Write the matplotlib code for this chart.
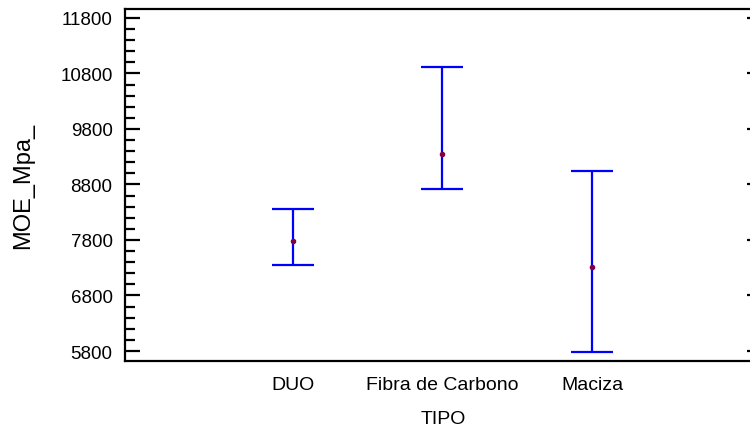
import matplotlib
matplotlib.use("Agg")
import matplotlib.pyplot as plt
import numpy as np
from matplotlib.ticker import FixedLocator

plt.rcParams['font.family'] = ['Liberation Sans', 'DejaVu Sans']

# data (mean and interval limits, MPa)
categories = ["DUO", "Fibra de Carbono", "Maciza"]
means = [7780, 9340, 7310]
lower = [7345, 8720, 5790]
upper = [8360, 10920, 9040]
y_ticks = [5800, 6800, 7800, 8800, 9800, 10800, 11800]

fig = plt.figure(figsize=(7.5, 4.27), dpi=100)
ax = fig.add_axes([125 / 750, 1 - 362 / 427, 637 / 750, 352 / 427])

pos = list(range(1, len(categories) + 1))
err_lo = [m - l for m, l in zip(means, lower)]
err_hi = [u - m for m, u in zip(means, upper)]

# intervals
ax.errorbar(pos, means, yerr=[err_lo, err_hi], fmt='none', ecolor='#0000ff',
            elinewidth=1.6, capsize=15, capthick=1.6, zorder=2)
# means
ax.plot(pos, means, 'o', color='#800040', markersize=3, zorder=3)

ax.set_xlim(1 - 1.12, 3 + 1.135)
ax.set_ylim(5620, 11960)
ax.set_xticks(pos)
ax.set_xticklabels(categories)
ax.yaxis.set_major_locator(FixedLocator(y_ticks))
ax.yaxis.set_minor_locator(FixedLocator(np.arange(y_ticks[0], y_ticks[-1], 200)))

ax.tick_params(axis='x', length=0, pad=11, labelsize=14)
ax.tick_params(axis='y', which='major', direction='in', length=11, width=1.6,
               labelsize=13.5, right=True, pad=9)
ax.tick_params(axis='y', which='minor', direction='in', length=7, width=1.6, right=False)

for s in ax.spines.values():
    s.set_linewidth(1.6)

ax.set_xlabel("TIPO", fontsize=14, labelpad=12)
ax.set_ylabel("MOE_Mpa_", fontsize=17, labelpad=19)

fig.savefig("out.png", dpi=100)
